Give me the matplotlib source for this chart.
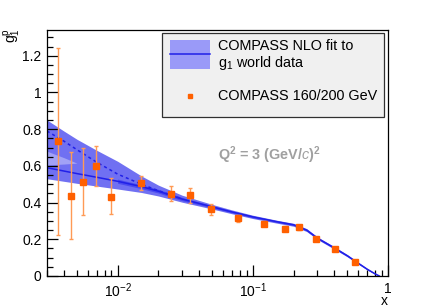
"""
g1 proton vs x at Q^2 = 3 (GeV/c)^2: COMPASS NLO fit band with data points.
"""

import matplotlib
matplotlib.use("Agg")
import matplotlib.pyplot as plt
from matplotlib.patches import Rectangle
from matplotlib.ticker import FixedLocator, NullFormatter, MultipleLocator

plt.rcParams['font.family'] = ['Liberation Sans', 'DejaVu Sans']
plt.rcParams['mathtext.fontset'] = 'custom'
plt.rcParams['mathtext.rm'] = 'Liberation Sans'
plt.rcParams['mathtext.it'] = 'Liberation Sans:italic'
plt.rcParams['mathtext.bf'] = 'Liberation Sans:bold'

# ─────────────────────────────────────────────
# DATA
# ─────────────────────────────────────────────
# fit curves
x_fit    = [0.003, 0.004, 0.005, 0.007, 0.01, 0.015, 0.02, 0.03, 0.05, 0.07,
            0.1, 0.15, 0.2, 0.25, 0.3, 0.4, 0.5, 0.6, 0.7, 0.8, 0.86]
g1_fit   = [0.590, 0.572, 0.558, 0.538, 0.516, 0.487, 0.462, 0.419, 0.377, 0.349,
            0.322, 0.296, 0.279, 0.250, 0.206, 0.153, 0.110, 0.070, 0.037, 0.012, 0.0]
band_top = [0.850, 0.790, 0.745, 0.685, 0.625, 0.545, 0.495, 0.440, 0.390, 0.360,
            0.331, 0.304, 0.287, 0.258, 0.213, 0.160, 0.116, 0.075, 0.041, 0.015, 0.002]
band_bot = [0.530, 0.516, 0.505, 0.490, 0.474, 0.455, 0.436, 0.402, 0.365, 0.339,
            0.313, 0.288, 0.271, 0.242, 0.199, 0.146, 0.104, 0.065, 0.033, 0.009, 0.0]

# second (dashed) solution, merges into the main curve above x ~ 0.03
x_alt    = [0.003, 0.004, 0.005, 0.007, 0.01, 0.015, 0.02, 0.03]
g1_alt   = [0.790, 0.735, 0.688, 0.620, 0.555, 0.500, 0.465, 0.420]

# lighter wedge between the two solutions at the smallest x
x_wedge   = [0.003, 0.004, 0.005]
wedge_top = [0.680, 0.645, 0.615]
wedge_bot = [0.605, 0.610, 0.615]

# darker core around the central curve
x_core   = [0.01, 0.015, 0.02, 0.03, 0.05, 0.07, 0.1, 0.15, 0.2, 0.25, 0.3,
            0.4, 0.5, 0.6, 0.7, 0.8, 0.86]
core_top = [0.528, 0.497, 0.472, 0.428, 0.383, 0.354, 0.327, 0.300, 0.283, 0.254,
            0.210, 0.156, 0.113, 0.072, 0.039, 0.013, 0.001]
core_bot = [0.505, 0.476, 0.452, 0.410, 0.371, 0.344, 0.317, 0.292, 0.275, 0.246,
            0.202, 0.150, 0.107, 0.068, 0.035, 0.011, 0.0]

# COMPASS 160/200 GeV points
x_pts  = [0.00363, 0.00453, 0.00552, 0.00695, 0.00897, 0.0148, 0.0247, 0.0345,
          0.0487, 0.0773, 0.121, 0.172, 0.221, 0.292, 0.407, 0.569]
g1_pts = [0.734, 0.437, 0.514, 0.601, 0.432, 0.508, 0.449, 0.440,
          0.363, 0.314, 0.285, 0.258, 0.265, 0.203, 0.149, 0.076]
err_up = [0.506, 0.237, 0.182, 0.110, 0.100, 0.039, 0.041, 0.040,
          0.027, 0.020, 0.015, 0.015, 0.013, 0.008, 0.007, 0.006]
err_dn = [0.511, 0.237, 0.184, 0.110, 0.096, 0.039, 0.042, 0.044,
          0.033, 0.020, 0.015, 0.015, 0.013, 0.008, 0.007, 0.006]

x_ticks  = [0.01, 0.1, 1]
x_labels = ["10$^{-2}$", "10$^{-1}$", "1"]
y_ticks  = [0, 0.2, 0.4, 0.6, 0.8, 1.0, 1.2]
y_labels = ["0", "0.2", "0.4", "0.6", "0.8", "1", "1.2"]

BAND_COLOR  = "#7070f2"
WEDGE_COLOR = "#a2a2f6"
CORE_COLOR  = "#4a4af0"
LINE_COLOR  = "#2020e8"
PT_COLOR    = "#ff6000"
ERR_COLOR   = "#ff9a55"
LEG_SIZE    = 10.4

# ─────────────────────────────────────────────
# FIGURE
# ─────────────────────────────────────────────
fig = plt.figure(figsize=(4.27, 3.07), dpi=100)
ax = fig.add_axes([0.110, 0.101, 0.799, 0.801])

ax.fill_between(x_fit, band_bot, band_top, color=BAND_COLOR, lw=0)
ax.fill_between(x_wedge, wedge_bot, wedge_top, color=WEDGE_COLOR, lw=0)
ax.fill_between(x_core, core_bot, core_top, color=CORE_COLOR, lw=0)
ax.plot(x_fit, g1_fit, color=LINE_COLOR, lw=1.1)
ax.plot(x_alt, g1_alt, color=LINE_COLOR, lw=1.1, ls=(0, (2, 2)))

ax.errorbar(x_pts, g1_pts, yerr=[err_dn, err_up], fmt="none",
            ecolor=ERR_COLOR, elinewidth=1.0, capsize=1.2, capthick=1.0)
ax.plot(x_pts, g1_pts, ls="none", marker="s", ms=4.5, color=PT_COLOR,
        mec=PT_COLOR)

# ── axes ──
ax.set_xscale("log")
ax.set_xlim(0.003, 1.0)
ax.set_ylim(0, 1.34)
ax.xaxis.set_major_locator(FixedLocator(x_ticks))
ax.set_xticklabels(x_labels)
ax.xaxis.set_minor_locator(FixedLocator(
    [m * 10.0 ** e for e in (-3, -2, -1) for m in range(2, 10)]))
ax.xaxis.set_minor_formatter(NullFormatter())
ax.set_yticks(y_ticks)
ax.set_yticklabels(y_labels)
ax.yaxis.set_minor_locator(MultipleLocator(0.05))

ax.tick_params(which="both", direction="in", top=False, right=False,
               labelsize=10, colors="black", pad=4)
ax.tick_params(which="major", length=8, width=0.9)
ax.tick_params(which="minor", length=4.5, width=0.9)
for s in ax.spines.values():
    s.set_linewidth(0.9)

ax.text(-0.100, 1.008, "g$_1^{\\rm p}$", transform=ax.transAxes, rotation=90,
        ha="center", va="top", fontsize=10)
ax.text(1.0, -0.073, "x", transform=ax.transAxes, ha="right", va="top",
        fontsize=10)

ax.text(0.50, 0.492, "Q$^{\\bf 2}$ = 3 (GeV/$\\it{c}$)$^{\\bf 2}$",
        transform=ax.transAxes, color="#a0a0a0", fontsize=LEG_SIZE,
        fontweight="bold", ha="left", va="center")

# ── legend, drawn by hand to match the boxed ROOT legend ──
ax.add_patch(Rectangle((0.338, 0.648), 0.651, 0.339, transform=ax.transAxes,
                       facecolor="#f0f0f0", edgecolor="#303030", lw=0.9,
                       zorder=5))
ax.add_patch(Rectangle((0.361, 0.841), 0.116, 0.120, transform=ax.transAxes,
                       facecolor="#9a9af8", edgecolor="none", zorder=6))
ax.plot([0.361, 0.477], [0.901, 0.901], transform=ax.transAxes,
        color=LINE_COLOR, lw=1.1, zorder=7)
ax.text(0.502, 0.935, "COMPASS NLO fit to", transform=ax.transAxes,
        fontsize=LEG_SIZE, ha="left", va="center", zorder=7)
ax.text(0.502, 0.868, "g$_1$ world data", transform=ax.transAxes,
        fontsize=LEG_SIZE, ha="left", va="center", zorder=7)
ax.plot([0.419], [0.732], transform=ax.transAxes, marker="s", ms=3,
        color=PT_COLOR, ls="none", zorder=7)
ax.text(0.502, 0.732, "COMPASS 160/200 GeV", transform=ax.transAxes,
        fontsize=LEG_SIZE, ha="left", va="center", zorder=7)

fig.savefig("out.png", dpi=100)
